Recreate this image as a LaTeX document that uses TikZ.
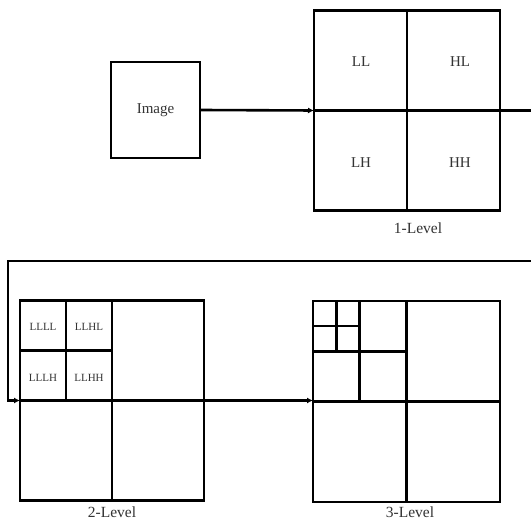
\documentclass[tikz,border=0pt]{standalone}
\usepackage{fontspec}
\setmainfont{Liberation Serif}
\usetikzlibrary{arrows.meta,calc}
\begin{document}
\begin{tikzpicture}[x=1pt,y=-1pt,
  box/.style={draw,line width=2.8pt,inner sep=0pt,outer sep=0pt},
  div/.style={line width=2.6pt},
  conn/.style={line width=2.6pt,-{Latex[length=6pt,width=6pt]}},
  lab/.style={font=\fontsize{15}{17}\selectfont,text=black!80},
  slab/.style={font=\fontsize{11}{12}\selectfont,text=black!80},
  lvlcap/.style={font=\fontsize{15.5}{17}\selectfont,text=black!80}]
\clip (0,0) rectangle (531,521);
\fill[white] (0,0) rectangle (531,521);

% Image
\node[box,minimum width=89pt,minimum height=96pt,lab] (img) at (155.5,110) {Image};

% 1-Level
\node[box,minimum width=186pt,minimum height=200pt] (l1) at (407,110.5) {};
\draw[div] (l1.north) -- (l1.south);
\draw[div] (l1.west) -- (l1.east);
\node[lab] (ll) at (361,62) {LL};
\node[lab] (hl) at (460,62) {HL};
\node[lab] (lh) at (361,163) {LH};
\node[lab] (hh) at (460,163) {HH};
\node[lvlcap] (c1) at (418,228) {1-Level};

% 2-Level
\node[box,minimum width=184pt,minimum height=200pt] (l2) at (112,400.5) {};
\draw[div] (l2.north) -- (l2.south);
\draw[div] (l2.west) -- (l2.east);
\coordinate (q2) at ($(l2.north west)!0.5!(l2.center)$);
\draw[div] (q2 |- l2.north) -- (q2 |- l2.center);
\draw[div] (q2 -| l2.west) -- (q2 -| l2.center);
\node[slab] (llll) at (43,327) {LLLL};
\node[slab] (llhl) at (89,327) {LLHL};
\node[slab] (lllh) at (43,378) {LLLH};
\node[slab] (llhh) at (89,378) {LLHH};
\node[lvlcap] (c2) at (112,512) {2-Level};

% 3-Level
\node[box,minimum width=187pt,minimum height=201pt] (l3) at (406.5,401.5) {};
\draw[div] (l3.north) -- (l3.south);
\draw[div] (l3.west) -- (l3.east);
\coordinate (q3) at ($(l3.north west)!0.5!(l3.center)$);
\draw[div] (q3 |- l3.north) -- (q3 |- l3.center);
\draw[div] (q3 -| l3.west) -- (q3 -| l3.center);
\coordinate (r3) at ($(l3.north west)!0.5!(q3)$);
\draw[div] (r3 |- l3.north) -- (r3 |- q3);
\draw[div] (r3 -| l3.west) -- (r3 -| q3);
\node[lvlcap] (c3) at (410,512) {3-Level};

% connectors
\draw[conn] (img.east) -- (l1.west);
\coordinate (offr) at (560,110.5);
\coordinate (bend) at (8,261);
\draw[conn] (l1.east) -- (offr) |- (bend) |- (l2.west);
\draw[conn] (l2.east) -- (l3.west |- l2.east);
\end{tikzpicture}
\end{document}
